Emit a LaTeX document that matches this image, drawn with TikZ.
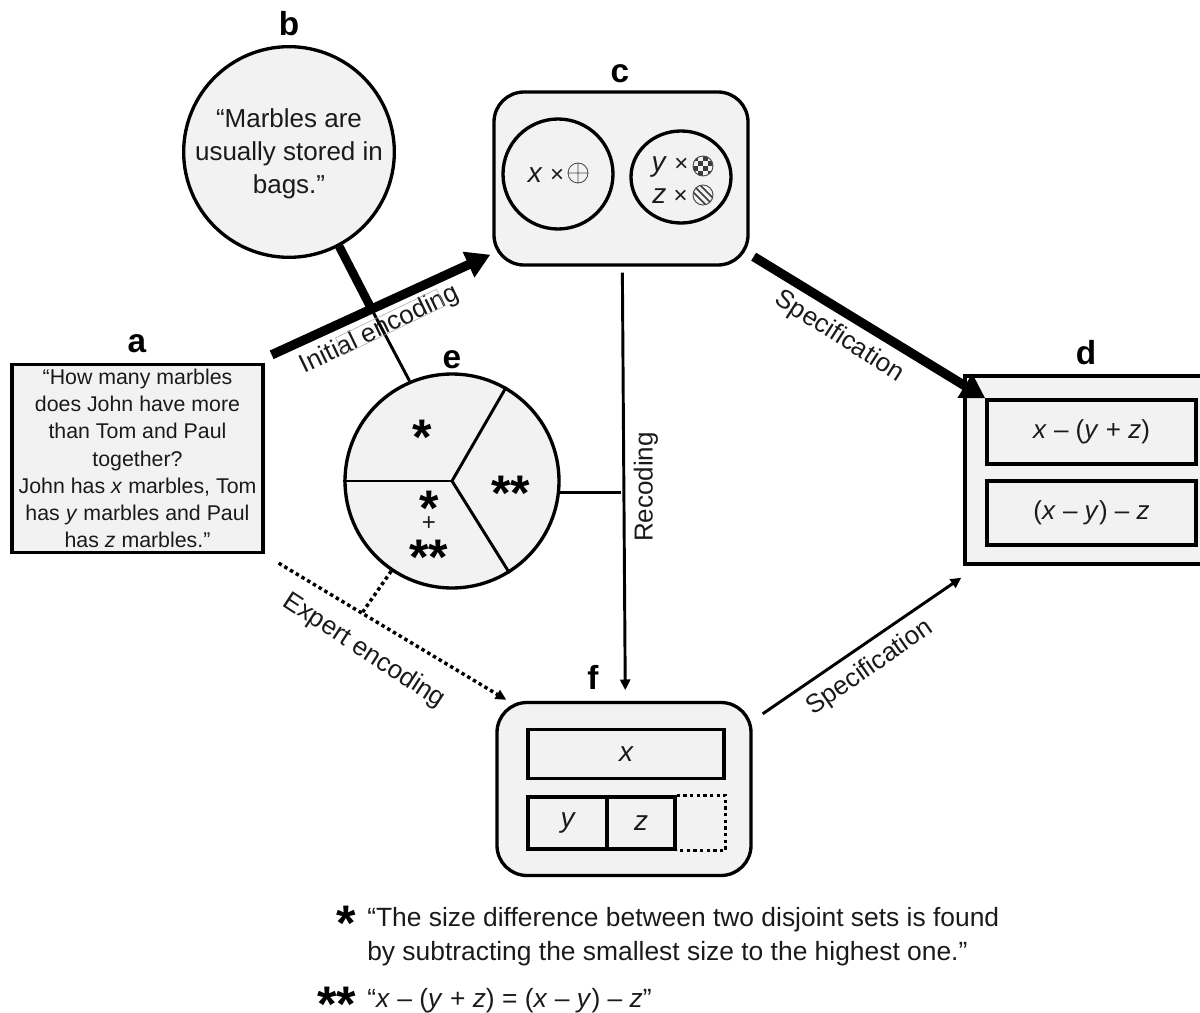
\documentclass[tikz,border=0pt]{standalone}
\usepackage{fontspec}
\setmainfont{Liberation Sans}
\usepackage{tikz}
\usetikzlibrary{shapes.geometric, arrows.meta}
\definecolor{panelgray}{HTML}{F2F2F2}
\definecolor{inkgray}{HTML}{1A1A1A}
\newcommand{\starglyph}[1]{\raisebox{-0.46em}[0.2em][0.2em]{#1}}

\begin{document}
\begin{tikzpicture}[
	x=0.75pt, y=-0.75pt,
	every node/.style={inner sep=0pt, text=inkgray, font=\fontsize{19.5pt}{24.75pt}\selectfont},
	panel/.style={draw=black, fill=panelgray, line width=2.5pt, rounded corners=22.5pt, minimum width=190.5pt, minimum height=129.75pt},
	plate/.style={draw=black, fill=panelgray, line width=2.5pt},
	cell/.style={draw=black, line width=2.5pt},
	ring/.style={circle, draw=black, line width=2.5pt},
	tag/.style={text=black, font=\fontsize{25pt}{25pt}\selectfont\bfseries},
	starmark/.style={text=black, font=\fontsize{37.5pt}{37.5pt}\selectfont\bfseries},
	letter/.style={font=\fontsize{21pt}{21pt}\selectfont\itshape},
	boldarrow/.style={-{Triangle[length=18pt, width=20pt]}, line width=7pt},
	thinarrow/.style={-{Triangle[length=8pt, width=7.5pt]}, line width=2.2pt},
	dotline/.style={line width=2.6pt, dash pattern=on 2.6pt off 2.4pt}
	]
	\clip (0,0) rectangle (1200,1013);

	% Nodes
	\node (a) [plate, minimum width=188.25pt, minimum height=141pt, align=center, font=\fontsize{16pt}{20.4pt}\selectfont] at (137.5,458.5) {“How many marbles\\does John have more\\than Tom and Paul\\together?\\John has \textit{x} marbles, Tom\\has \textit{y} marbles and Paul\\has \textit{z} marbles.”};
	\node (b) [ring, fill=panelgray, minimum size=158pt] at (289,152) {};
	\node (btext) [align=center] at (289,153.5) {“Marbles are\\usually stored in\\bags.”};
	\node (c) [panel] at (621,178.5) {};
	\node (d) [plate, minimum width=178.5pt, minimum height=141pt] at (1084,470) {};
	\node (e) [ring, fill=panelgray, minimum size=160.5pt] at (452,481) {};
	\node (f) [panel] at (624,789) {};

	% Node letters
	\node (taga) [tag] at (137,344) {a};
	\node (tagb) [tag] at (289,24) {b};
	\node (tagc) [tag] at (620,74) {c};
	\node (tagd) [tag] at (1086,353) {d};
	\node (tage) [tag] at (452,360) {e};
	\node (tagf) [tag] at (593,677) {f};

	% Inside c
	\node (cleft) [ring, minimum size=82.5pt] at (558,174) {};
	\node (cright) [ellipse, draw=black, line width=2.5pt, minimum width=75pt, minimum height=69pt] at (681,177) {};
	\node (xcount) at (546,175) {{\fontsize{21pt}{21pt}\selectfont\textit{x}} {\fontsize{18pt}{18pt}\selectfont ×}};
	\node (ycount) at (670,167) {{\fontsize{21pt}{21pt}\selectfont\textit{y}} {\fontsize{18pt}{18pt}\selectfont ×}};
	\node (zcount) at (670,196) {{\fontsize{21pt}{21pt}\selectfont\textit{z}} {\fontsize{18pt}{18pt}\selectfont ×}};
	\draw[line width=0.6pt, draw=inkgray!80] (578,173) circle (10) (568,173) -- (588,173) (578,163) -- (578,183);
	\begin{scope}
		\clip (703,166) circle (10);
		\foreach \row in {0,...,3} {
			\foreach \col in {0,...,3} {
				\pgfmathparse{int(mod(\row+\col,2))}
				\ifnum\pgfmathresult=0
					\fill[inkgray!85] (693+\col*5,156+\row*5) rectangle +(5,5);
				\fi
			}
		}
	\end{scope}
	\draw[line width=0.7pt, draw=inkgray!80] (703,166) circle (10);
	\begin{scope}
		\clip (703,195) circle (10);
		\foreach \off in {-7,0,7} {
			\draw[line width=1.1pt, draw=inkgray!85] (703+\off-10,195-10) -- (703+\off+10,195+10);
		}
	\end{scope}
	\draw[line width=0.7pt, draw=inkgray!80] (703,195) circle (10);

	% Inside d
	\node (dtop) [cell, minimum width=156.75pt, minimum height=48pt] at (1091.5,432) {\raisebox{-1.5pt}{\textit{x} – (\textit{y} + \textit{z})}};
	\node (dbot) [cell, minimum width=156.75pt, minimum height=48pt] at (1091.5,513) {\raisebox{-1.5pt}{(\textit{x} – \textit{y}) – \textit{z}}};

	% Inside e
	\draw[line width=2.2pt] (e.center) -- (e.180);
	\draw[line width=2.2pt] (e.center) -- (e.60);
	\draw[line width=2.2pt] (e.center) -- (e.-58.6);
	\node (stara) [starmark] at (422,431) {\starglyph{*}};
	\node (starb) [starmark] at (511,487) {\starglyph{**}};
	\node (starc) [starmark] at (429,502) {\starglyph{*}};
	\node (plusc) [font=\fontsize{18pt}{18pt}\selectfont] at (429,524) {+};
	\node (stard) [starmark] at (429,551) {\starglyph{**}};

	% Inside f
	\node (fx) [cell, letter, minimum width=147pt, minimum height=36.75pt] at (626,754) {x};
	\node (fy) [cell, letter, minimum width=59.25pt, minimum height=39pt] at (567.5,823) {y};
	\node (fz) [cell, letter, minimum width=51pt, minimum height=39pt] at (641,823) {z};
	\draw[dotline] (fz.north east) -- ++(49,0) |- (fz.south east);

	% Connections
	\coordinate (knot) at (371,308);
	\coordinate (expertjoin) at (362,613);
	\draw[line width=6.5pt] (b.-62) -- (knot);
	\draw[line width=2.2pt] (knot) -- (e.113);
	\draw[boldarrow] ([shift={(7,-8)}]a.north east) -- ([shift={(-2,-12)}]c.south west);
	\draw[boldarrow] ([shift={(4,-10)}]c.south east) -- ([shift={(22,24)}]d.north west);
	\draw[thinarrow, shorten <=4.5pt, shorten >=8pt] ([xshift=1pt]c.south) -- ([xshift=1pt]f.north);
	\draw[line width=2.2pt] (e.-6.4) -- (e.-6.4 -| c.south);
	\draw[thinarrow] ([shift={(10,13)}]f.north east) -- ([shift={(-2,12)}]d.south west);
	\draw[dotline, -{Triangle[length=8pt, width=7.5pt]}] ([shift={(14,9)}]a.south east) -- ([shift={(11,-1)}]f.north west);
	\draw[dotline] (e.-124.6) -- (expertjoin);

	% Connection labels
	\node (initlabel) [rotate=25.7] at (380,330) {Initial encoding};
	\node (initframe) [rotate=25.7, draw=gray!70, line width=0.4pt, minimum width=84pt, minimum height=14pt] at (390,322) {};
	\node (speclabel) [rotate=-32.6] at (839,337) {Specification};
	\node (recodelabel) [rotate=90] at (646,487) {Recoding};
	\node (expertlabel) [rotate=-33] at (364,651) {Expert encoding};
	\node (speclabelb) [rotate=35] at (870,668) {Specification};

	% Notes
	\node (staronenote) [starmark] at (346,917) {\starglyph{*}};
	\node (startwonote) [starmark] at (337,998) {\starglyph{**}};
	\node (noteone) [anchor=west, align=left, font=\fontsize{19.8pt}{25.5pt}\selectfont] at (367,937) {“The size difference between two disjoint sets is found\\by subtracting the smallest size to the highest one.”};
	\node (notetwo) [anchor=west, font=\fontsize{19.8pt}{25.5pt}\selectfont] at (367,1001) {“\textit{x} – (\textit{y} + \textit{z}) = (\textit{x} – \textit{y}) – \textit{z}”};

\end{tikzpicture}
\end{document}
